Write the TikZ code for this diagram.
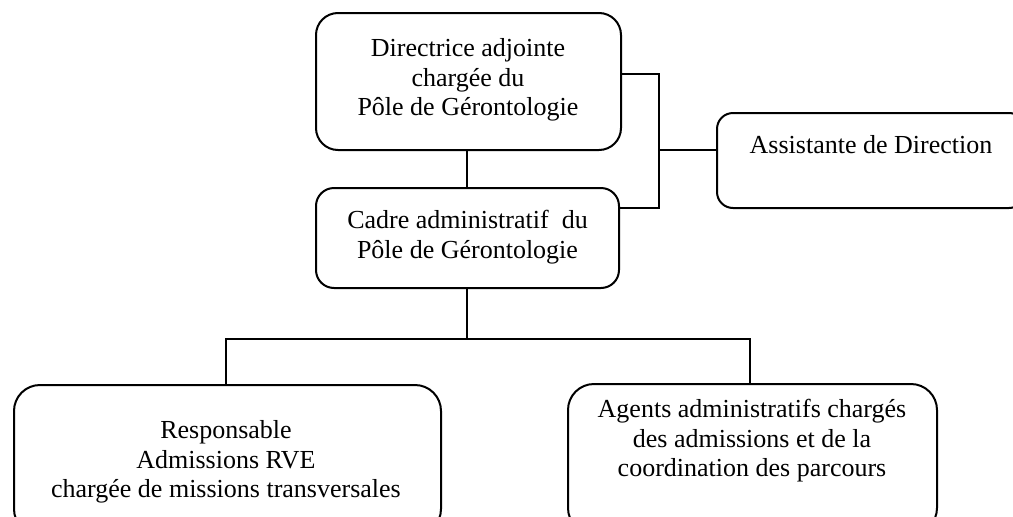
\documentclass[tikz,border=0pt]{standalone}
\usepackage{fontspec}
\setmainfont{Liberation Serif}
\begin{document}
\begin{tikzpicture}[x=1pt,y=-1pt,
  box/.style={draw=black,line width=2pt,rounded corners=#1,inner sep=0pt},
  box/.default=20pt,
  lbl/.style={align=center,inner sep=0pt,font=\fontsize{26}{29.5}\selectfont},
  thin link/.style={draw=black,line width=2.2pt},
  link/.style={draw=black,line width=2.8pt,line cap=rect}]
\useasboundingbox[fill=white] (0,0) rectangle (1013,517);
% boxes
\node[box=22pt,minimum width=305pt,minimum height=137pt] (A) at (468.5,81.5) {};
\node[box=18pt,minimum width=303pt,minimum height=100pt] (B) at (467.5,238) {};
\node[box=16pt,minimum width=308pt,minimum height=95pt] (C) at (871,160.5) {};
\node[box=26pt,minimum width=427pt,minimum height=150pt] (D) at (227.5,460) {};
\node[box=26pt,minimum width=369pt,minimum height=150pt] (E) at (752.5,459) {};
% texts
\node[lbl] (tA) at (468,80) {Directrice adjointe\\chargée du\\Pôle de Gérontologie};
\node[lbl] (tB) at (467.5,237) {Cadre administratif\ \ du\\Pôle de Gérontologie};
\node[lbl,anchor=base] (tC) at (871,153) {Assistante de Direction};
\node[lbl] (tD) at (226,462) {Responsable\\Admissions RVE\\chargée de missions transversales};
\node[lbl] (tE) at (752,441) {Agents administratifs chargés\\des admissions et de la\\coordination des parcours};
% connectors
\coordinate (bt) at (659,74);
\coordinate (bb) at (659,208);
\coordinate (bm) at (659,150);
\coordinate (hb) at (467,339);
\coordinate (hl) at (226,339);
\coordinate (hr) at (750,339);
\draw[thin link] (A.south -| hb) -- (hb |- B.north);
\draw[link] (A.east |- bt) -- (bt) -- (bb) -- (B.east |- bb);
\draw[link] (bm) -- (C.west |- bm);
\draw[thin link] (B.south -| hb) -- (hb);
\draw[link] (hl) -- (hr);
\draw[link] (hl) -- (hl |- D.north);
\draw[thin link] (hr) -- (hr |- E.north);
\end{tikzpicture}
\end{document}
